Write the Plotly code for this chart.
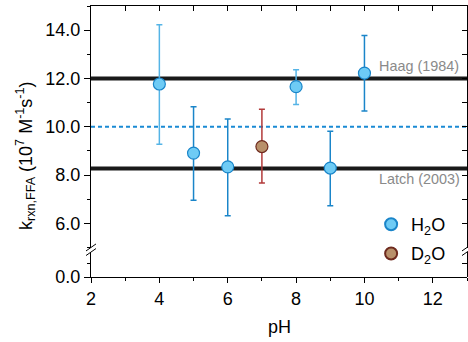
import plotly.graph_objects as go

# ---- data ----
ph_h2o = [4, 5, 6, 8, 9, 10]
k_h2o = [11.77, 8.91, 8.34, 11.66, 8.29, 12.22]
err_up_h2o = [2.45, 1.92, 1.98, 0.70, 1.52, 1.56]
err_dn_h2o = [2.49, 1.95, 2.03, 0.74, 1.56, 1.57]
light_err = [True, False, False, True, False, False]

ph_d2o = [7]
k_d2o = [9.18]
err_up_d2o = [1.54]
err_dn_d2o = [1.51]

haag_k = 12.0
latch_k = 8.27
mean_k = 10.0
x_span = [2, 13]

FONT = "Liberation Sans, Arial, sans-serif"
H_FILL = "#6ecbf5"
H_EDGE = "#1a85c9"
H_ERR_DARK = "#1a85c9"
H_ERR_LIGHT = "#55b4e6"
D_FILL = "#b8906a"
D_EDGE = "#6e2a1e"
D_ERR = "#b23a3a"

fig = go.Figure()

# reference lines
fig.add_trace(go.Scatter(x=x_span, y=[haag_k, haag_k], mode="lines",
                         line=dict(color="#1a1a1a", width=4), showlegend=False, hoverinfo="skip"))
fig.add_trace(go.Scatter(x=x_span, y=[latch_k, latch_k], mode="lines",
                         line=dict(color="#1a1a1a", width=4), showlegend=False, hoverinfo="skip"))
fig.add_trace(go.Scatter(x=x_span, y=[mean_k, mean_k], mode="lines",
                         line=dict(color="#1a8ad4", width=2, dash="4px,3px"),
                         showlegend=False, hoverinfo="skip"))

# H2O points: split by error-bar shade
for light in (True, False):
    idx = [i for i, l in enumerate(light_err) if l == light]
    fig.add_trace(go.Scatter(
        x=[ph_h2o[i] for i in idx], y=[k_h2o[i] for i in idx], mode="markers",
        marker=dict(size=12, color=H_FILL, line=dict(color=H_EDGE, width=1.2)),
        error_y=dict(type="data", symmetric=False,
                     array=[err_up_h2o[i] for i in idx],
                     arrayminus=[err_dn_h2o[i] for i in idx],
                     color=H_ERR_LIGHT if light else H_ERR_DARK, thickness=1.5, width=3),
        name="H<sub>2</sub>O", legendgroup="h2o", showlegend=not light, legend="legend",
    ))

fig.add_trace(go.Scatter(
    x=ph_d2o, y=k_d2o, mode="markers",
    marker=dict(size=12, color=D_FILL, line=dict(color=D_EDGE, width=1.2)),
    error_y=dict(type="data", symmetric=False, array=err_up_d2o, arrayminus=err_dn_d2o,
                 color=D_ERR, thickness=1.5, width=3),
    name="D<sub>2</sub>O", legend="legend2",
))

# dummy traces so the decorative overlay axes are drawn
fig.add_trace(go.Scatter(x=[], y=[], xaxis="x2", yaxis="y3", showlegend=False, hoverinfo="skip"))
fig.add_trace(go.Scatter(x=[], y=[], xaxis="x", yaxis="y2", showlegend=False, hoverinfo="skip"))
fig.add_trace(go.Scatter(x=[], y=[], xaxis="x", yaxis="y4", showlegend=False, hoverinfo="skip"))

H_PLOT = 271.0
up_bottom = (277 - 247.5) / H_PLOT
lo_top = (277 - 252) / H_PLOT

axis_common = dict(showline=True, linecolor="black", linewidth=1, showgrid=False,
                   zeroline=False, tickcolor="black", tickwidth=1, automargin=False)

legend_common = dict(xanchor="left", yanchor="top", bgcolor="rgba(0,0,0,0)",
                     font=dict(size=18, family=FONT), itemsizing="constant")

fig.update_layout(
    width=468, height=342,
    margin=dict(l=91, r=1, t=6, b=65, autoexpand=False),
    plot_bgcolor="white", paper_bgcolor="white",
    font=dict(family=FONT, size=18, color="black"),
    xaxis=dict(range=x_span, anchor="y2", tickvals=[2, 4, 6, 8, 10, 12],
               ticks="outside", ticklen=5,
               minor=dict(dtick=1, tick0=2, ticks="outside", ticklen=3, tickcolor="black"),
               tickfont=dict(size=18), **axis_common),
    xaxis2=dict(range=x_span, overlaying="x", side="top", anchor="y",
                tick0=2, dtick=1, ticks="inside", ticklen=5, showticklabels=False,
                **axis_common),
    yaxis=dict(domain=[up_bottom, 1], range=[5, 15], anchor="x",
               tickvals=[6, 8, 10, 12, 14], tickformat=".1f",
               ticks="outside", ticklen=6,
               minor=dict(dtick=1, tick0=5, ticks="outside", ticklen=3, tickcolor="black"),
               tickfont=dict(size=18), **axis_common),
    yaxis2=dict(domain=[0, lo_top], range=[0, 0.93], anchor="x",
                tickvals=[0], ticktext=["0.0"], ticks="outside", ticklen=6,
                minor=dict(tickvals=[0.5], ticks="outside", ticklen=3, tickcolor="black"),
                tickfont=dict(size=18), **axis_common),
    yaxis3=dict(range=[5, 15], overlaying="y", side="right", anchor="x2",
                tick0=5, dtick=1, ticks="inside", ticklen=5, showticklabels=False,
                **axis_common),
    yaxis4=dict(domain=[0, lo_top], range=[0, 0.93], side="right", anchor="x",
                tick0=0, dtick=0.5, ticks="inside", ticklen=5, showticklabels=False,
                **axis_common),
    showlegend=True,
    legend=dict(x=0.745, y=0.262, **legend_common),
    legend2=dict(x=0.745, y=0.154, **legend_common),
)

# axis-break marks
brk_y = (277 - 249.75) / H_PLOT
shapes = []
for xp in (0, 1):
    for dy in (-2.3, 2.3):
        shapes.append(dict(type="line", xref="paper", yref="paper",
                           xsizemode="pixel", ysizemode="pixel",
                           xanchor=xp, yanchor=brk_y,
                           x0=-5, x1=5, y0=dy - 3.5, y1=dy + 3.5,
                           line=dict(color="black", width=1)))
fig.update_layout(shapes=shapes)

annotations = [
    dict(text="k<sub>rxn,FFA</sub> (10<sup>7</sup> M<sup>-1</sup>s<sup>-1</sup>)",
         xref="paper", yref="paper", x=(25 - 91) / 376, y=(277 - 156) / H_PLOT,
         textangle=-90, showarrow=False, xanchor="center", yanchor="middle",
         font=dict(size=18, family=FONT, color="black")),
    dict(text="pH", xref="paper", yref="paper", x=0.5, y=(277 - 326.7) / H_PLOT,
         showarrow=False, xanchor="center", yanchor="middle",
         font=dict(size=18, family=FONT, color="black")),
    dict(text="Haag (1984)", xref="paper", yref="y", x=(461 - 91) / 376, y=12.5,
         showarrow=False, xanchor="right", yanchor="middle",
         font=dict(size=14.4, family=FONT, color="#8a8a8a")),
    dict(text="Latch (2003)", xref="paper", yref="y", x=(462 - 91) / 376, y=7.82,
         showarrow=False, xanchor="right", yanchor="middle",
         font=dict(size=14.4, family=FONT, color="#8a8a8a")),
]
fig.update_layout(annotations=annotations)

fig.write_html("out.html", config={"displayModeBar": False},
               post_script="document.body.style.margin='0';document.body.style.padding='0';")
